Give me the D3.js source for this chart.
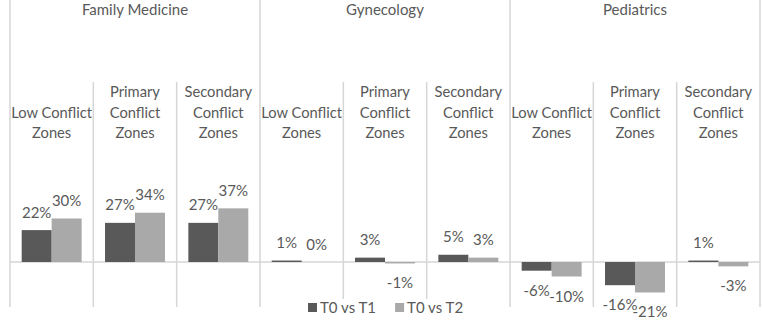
<!DOCTYPE html>
<html>
<head>
<meta charset="utf-8">
<script src="https://cdn.jsdelivr.net/npm/d3@7"></script>
<style>
	body { margin: 0; background: #fff; }
	text { font-family: Lato, "Noto Sans", sans-serif; fill: #595959; }
</style>
</head>
<body>
<div id="chart"></div>
<script>
// chart values
var departments = ["Family Medicine", "Gynecology", "Pediatrics"];
var zones = ["Low Conflict Zones", "Primary Conflict Zones", "Secondary Conflict Zones"];
var zoneLines = [["Low Conflict", "Zones"], ["Primary", "Conflict", "Zones"], ["Secondary", "Conflict", "Zones"]];
var seriesNames = ["T0 vs T1", "T0 vs T2"];
var t0vsT1 = [22, 27, 27, 1, 3, 5, -6, -16, 1];
var t0vsT2 = [30, 34, 37, 0, -1, 3, -10, -21, -3];
var colors = ["#595959", "#A9A9A9"];

var width = 762,
	height = 333,
	gridColor = "#D6D6D6",
	bottom = 307;

var svg = d3.select("#chart")
	.append("svg")
	.attr("width", width)
	.attr("height", height);

// scales
var x0 = d3.scaleBand().domain(departments).range([10, 760]);
var x1 = d3.scaleBand().domain(zones).range([0, x0.bandwidth()]);
var x2 = d3.scaleBand().domain(seriesNames).range([0, x1.bandwidth()]).paddingOuter(0.39);
var y = d3.scaleLinear().domain([-30, 40]).range([305.5, 204]);

// build rows from the arrays
var rows = [];
departments.forEach(function (dep, i) {
	zones.forEach(function (z, j) {
		var k = i * zones.length + j;
		rows.push({ dep: dep, zone: z, s: seriesNames[0], v: t0vsT1[k] });
		rows.push({ dep: dep, zone: z, s: seriesNames[1], v: t0vsT2[k] });
	});
});

// grid lines: department separators
var depEdges = departments.map(function (d) { return x0(d); }).concat([x0.range()[1]]);
svg.selectAll(".depline")
	.data(depEdges)
	.enter()
	.append("line")
	.attr("x1", function (d) { return d; })
	.attr("x2", function (d) { return d; })
	.attr("y1", 0)
	.attr("y2", bottom)
	.style("stroke", gridColor)
	.style("stroke-width", 1.5);

// zone separators inside each department
var zoneEdges = [];
departments.forEach(function (dep) {
	zones.slice(1).forEach(function (z) { zoneEdges.push(x0(dep) + x1(z)); });
});
svg.selectAll(".zoneline")
	.data(zoneEdges)
	.enter()
	.append("line")
	.attr("x1", function (d) { return d; })
	.attr("x2", function (d) { return d; })
	.attr("y1", 82)
	.attr("y2", bottom)
	.style("stroke", gridColor)
	.style("stroke-width", 1.5);

// zero line
svg.append("line")
	.attr("x1", x0.range()[0])
	.attr("x2", x0.range()[1])
	.attr("y1", y(0))
	.attr("y2", y(0))
	.style("stroke", gridColor)
	.style("stroke-width", 1.5);

// department titles
svg.selectAll(".dep")
	.data(departments)
	.enter()
	.append("text")
	.attr("x", function (d) { return x0(d) + x0.bandwidth() / 2; })
	.attr("y", 15)
	.attr("text-anchor", "middle")
	.style("font-size", "15px")
	.text(function (d) { return d; });

// zone labels, bottom aligned
var lineGap = 20.5, lastBase = 138;
departments.forEach(function (dep) {
	zones.forEach(function (z, j) {
		var lines = zoneLines[j];
		svg.append("g").selectAll("text")
			.data(lines)
			.enter()
			.append("text")
			.attr("x", x0(dep) + x1(z) + x1.bandwidth() / 2)
			.attr("y", function (d, i) { return lastBase - (lines.length - 1 - i) * lineGap; })
			.attr("text-anchor", "middle")
			.style("font-size", "14.7px")
			.text(function (d) { return d; });
	});
});

// bars
function barX(d) { return x0(d.dep) + x1(d.zone) + x2(d.s); }
svg.selectAll(".bar")
	.data(rows)
	.enter()
	.append("rect")
	.attr("class", "bar")
	.attr("x", barX)
	.attr("width", x2.bandwidth())
	.attr("y", function (d) { return Math.min(y(d.v), y(0)); })
	.attr("height", function (d) { return Math.abs(y(d.v) - y(0)); })
	.style("fill", function (d) { return colors[seriesNames.indexOf(d.s)]; });

// value labels outside end
svg.selectAll(".label")
	.data(rows)
	.enter()
	.append("text")
	.attr("class", "label")
	.attr("x", function (d) { return barX(d) + x2.bandwidth() / 2; })
	.attr("y", function (d) {
		return d.v >= 0 ? y(d.v) - 12.5 : y(d.v) + 25;
	})
	.attr("text-anchor", "middle")
	.style("font-size", "15px")
	.text(function (d) { return d.v + "%"; });

// legend
var legend = svg.append("g");
legend.append("rect")
	.attr("x", 300)
	.attr("y", 299)
	.attr("width", 170)
	.attr("height", 20)
	.style("fill", "#fff");
var lx = 308;
seriesNames.forEach(function (s, i) {
	legend.append("rect")
		.attr("x", lx)
		.attr("y", 303)
		.attr("width", 9)
		.attr("height", 9)
		.style("fill", colors[i]);
	var t = legend.append("text")
		.attr("x", lx + 12)
		.attr("y", 313)
		.style("font-size", "15px")
		.text(s);
	lx += 12 + t.node().getComputedTextLength() + 19;
});
</script>
</body>
</html>
